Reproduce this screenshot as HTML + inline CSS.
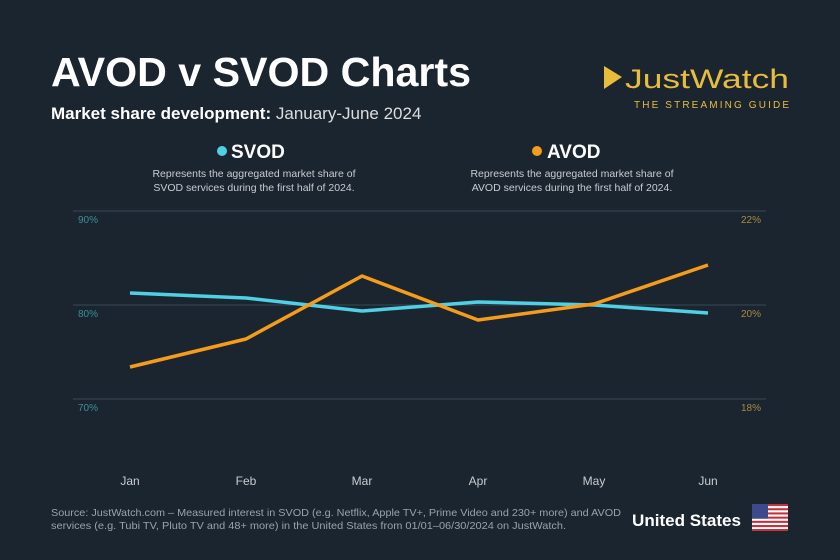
<!DOCTYPE html>
<html><head><style>
body{margin:0;width:840px;height:560px;background:#1b2530;overflow:hidden;font-family:"Liberation Sans",sans-serif;}
</style></head><body>
<svg width="840" height="560" xmlns="http://www.w3.org/2000/svg" style="position:absolute;left:0;top:0">
<rect width="840" height="560" fill="#1b2530"/>
<text x="51" y="86" font-size="41" fill="#fff" font-weight="bold" textLength="420" lengthAdjust="spacingAndGlyphs">AVOD v SVOD Charts</text>
<text x="51" y="119" font-size="17" fill="#fff"><tspan font-weight="bold">Market share development:</tspan><tspan fill="#ddd"> January-June 2024</tspan></text>
<polygon points="604,66 622,77 604,89" fill="#e8bd3c"/>
<text x="625" y="88" font-size="27" fill="#e8bd3c" textLength="164" lengthAdjust="spacingAndGlyphs">JustWatch</text>
<text x="634" y="108" font-size="10" fill="#e8bd3c" textLength="155" lengthAdjust="spacing">THE STREAMING GUIDE</text>
<circle cx="222" cy="151" r="5" fill="#4fd0e4"/>
<text x="231" y="158" font-size="19" fill="#fff" font-weight="bold">SVOD</text>
<circle cx="537" cy="151" r="5" fill="#f59d1a"/>
<text x="547" y="158" font-size="19" fill="#fff" font-weight="bold">AVOD</text>
<g font-size="10.5" fill="#c8ccd0" text-anchor="middle">
<text x="254" y="177">Represents the aggregated market share of</text>
<text x="254" y="191">SVOD services during the first half of 2024.</text>
<text x="572" y="177">Represents the aggregated market share of</text>
<text x="572" y="191">AVOD services during the first half of 2024.</text>
</g>
<g stroke="#3a4854" stroke-width="1">
<line x1="73" y1="211" x2="766" y2="211"/>
<line x1="73" y1="305" x2="766" y2="305"/>
<line x1="73" y1="399" x2="766" y2="399"/>
</g>
<g font-size="10" fill="#3a8f98">
<text x="78" y="223">90%</text><text x="78" y="317">80%</text><text x="78" y="411">70%</text>
</g>
<g font-size="10" fill="#a88a40" text-anchor="end">
<text x="761" y="223">22%</text><text x="761" y="317">20%</text><text x="761" y="411">18%</text>
</g>
<polyline points="130,293 246,298 362,311 478,302 594,305 708,313" fill="none" stroke="#4fd0e4" stroke-width="3.5" stroke-linejoin="round"/>
<polyline points="130,367 246,339 362,276 478,320 594,304 708,265" fill="none" stroke="#f59d1a" stroke-width="3.5" stroke-linejoin="round"/>
<g font-size="12" fill="#c8ccd0" text-anchor="middle">
<text x="130" y="485">Jan</text><text x="246" y="485">Feb</text><text x="362" y="485">Mar</text><text x="478" y="485">Apr</text><text x="594" y="485">May</text><text x="708" y="485">Jun</text>
</g>
<g font-size="10.5" fill="#9aa2aa">
<text x="51" y="516" textLength="570" lengthAdjust="spacingAndGlyphs">Source: JustWatch.com – Measured interest in SVOD (e.g. Netflix, Apple TV+, Prime Video and 230+  more) and AVOD</text>
<text x="51" y="529" textLength="515" lengthAdjust="spacingAndGlyphs">services (e.g. Tubi TV, Pluto TV and 48+ more) in the United States from 01/01–06/30/2024 on JustWatch.</text>
</g>
<text x="632" y="526" font-size="17" fill="#fff" font-weight="bold" textLength="109" lengthAdjust="spacingAndGlyphs">United States</text>
<g>
<rect x="752" y="504" width="36" height="27" fill="#fff"/>
<g fill="#c8303c">
<rect x="752" y="504" width="36" height="2.1"/><rect x="752" y="508.2" width="36" height="2.1"/><rect x="752" y="512.4" width="36" height="2.1"/><rect x="752" y="516.6" width="36" height="2.1"/><rect x="752" y="520.8" width="36" height="2.1"/><rect x="752" y="525" width="36" height="2.1"/><rect x="752" y="529" width="36" height="2"/>
</g>
<rect x="752" y="504" width="16" height="14.6" fill="#3c4a8c"/>
</g>
</svg>
</body></html>
